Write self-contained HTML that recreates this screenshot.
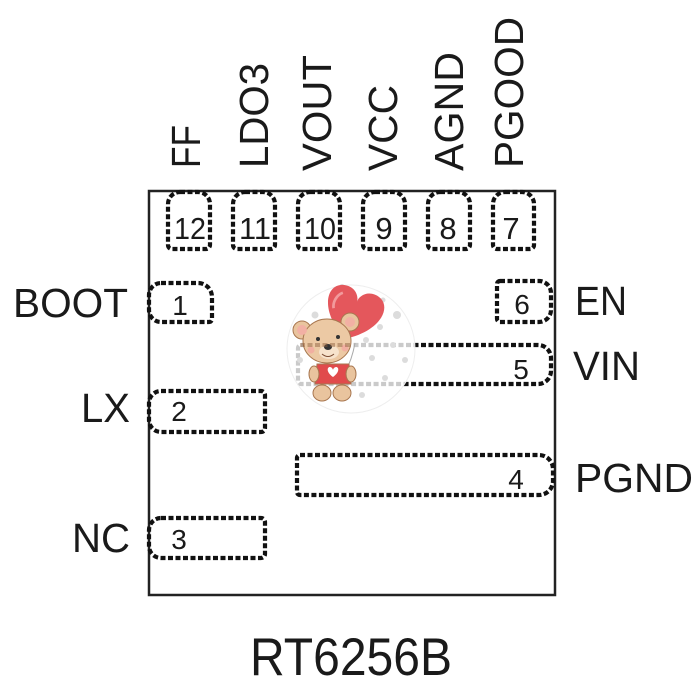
<!DOCTYPE html>
<html>
<head>
<meta charset="utf-8">
<style>
html,body{margin:0;padding:0;background:#fff;}
svg{display:block;}
text{font-family:"Liberation Sans",Arial,sans-serif;fill:#1a1a1a;}
</style>
</head>
<body>
<svg width="700" height="700" viewBox="0 0 700 700" xmlns="http://www.w3.org/2000/svg">
<rect x="0" y="0" width="700" height="700" fill="#fff"/>

<!-- vertical labels -->
<g font-size="41">
<text transform="translate(200,168) rotate(-90)" textLength="43" lengthAdjust="spacingAndGlyphs">FF</text>
<text transform="translate(268,168) rotate(-90)" textLength="105" lengthAdjust="spacingAndGlyphs">LDO3</text>
<text transform="translate(331,171) rotate(-90)" textLength="116" lengthAdjust="spacingAndGlyphs">VOUT</text>
<text transform="translate(397,171) rotate(-90)" textLength="86" lengthAdjust="spacingAndGlyphs">VCC</text>
<text transform="translate(463,171) rotate(-90)" textLength="119" lengthAdjust="spacingAndGlyphs">AGND</text>
<text transform="translate(523,168) rotate(-90)" textLength="151" lengthAdjust="spacingAndGlyphs">PGOOD</text>
</g>

<!-- side labels -->
<g font-size="41">
<text x="13" y="317" textLength="115" lengthAdjust="spacingAndGlyphs">BOOT</text>
<text x="81" y="422" textLength="49" lengthAdjust="spacingAndGlyphs">LX</text>
<text x="72" y="552" textLength="58" lengthAdjust="spacingAndGlyphs">NC</text>
<text x="575" y="315" textLength="52" lengthAdjust="spacingAndGlyphs">EN</text>
<text x="573" y="380" textLength="67" lengthAdjust="spacingAndGlyphs">VIN</text>
<text x="575" y="492" textLength="118" lengthAdjust="spacingAndGlyphs">PGND</text>
</g>

<text x="250" y="675" font-size="53" textLength="202" lengthAdjust="spacingAndGlyphs">RT6256B</text>

<!-- package body -->
<rect x="149" y="191" width="406" height="404" fill="none" stroke="#222" stroke-width="2.5"/>

<!-- pads -->
<g fill="none" stroke="#111" stroke-width="4.2" stroke-dasharray="5 2.5">
<path d="M180,192 H198 A12,12 0 0 1 210,204 V245 A4,4 0 0 1 206,249 H172 A4,4 0 0 1 168,245 V204 A12,12 0 0 1 180,192 Z"/>
<path d="M245,192 H263 A12,12 0 0 1 275,204 V245 A4,4 0 0 1 271,249 H237 A4,4 0 0 1 233,245 V204 A12,12 0 0 1 245,192 Z"/>
<path d="M310,192 H328 A12,12 0 0 1 340,204 V245 A4,4 0 0 1 336,249 H302 A4,4 0 0 1 298,245 V204 A12,12 0 0 1 310,192 Z"/>
<path d="M375,192 H393 A12,12 0 0 1 405,204 V245 A4,4 0 0 1 401,249 H367 A4,4 0 0 1 363,245 V204 A12,12 0 0 1 375,192 Z"/>
<path d="M440,192 H458 A12,12 0 0 1 470,204 V245 A4,4 0 0 1 466,249 H432 A4,4 0 0 1 428,245 V204 A12,12 0 0 1 440,192 Z"/>
<path d="M505,192 H522 A12,12 0 0 1 534,204 V245 A4,4 0 0 1 530,249 H497 A4,4 0 0 1 493,245 V204 A12,12 0 0 1 505,192 Z"/>
<path d="M161,283 H198 A14,14 0 0 1 212,297 V319 A3,3 0 0 1 209,322 H161 A12,12 0 0 1 149,310 V295 A12,12 0 0 1 161,283 Z"/>
<path d="M161,391 H261 A4,4 0 0 1 265,395 V428 A4,4 0 0 1 261,432 H161 A12,12 0 0 1 149,420 V403 A12,12 0 0 1 161,391 Z"/>
<path d="M161,518 H261 A4,4 0 0 1 265,522 V554 A4,4 0 0 1 261,558 H161 A12,12 0 0 1 149,546 V530 A12,12 0 0 1 161,518 Z"/>
<path d="M500,281 H539 A12,12 0 0 1 551,293 V310 A12,12 0 0 1 539,322 H500 A3,3 0 0 1 497,319 V284 A3,3 0 0 1 500,281 Z"/>
<path d="M301,345 H538 A13,13 0 0 1 551,358 V371 A13,13 0 0 1 538,384 H301 A3,3 0 0 1 298,381 V348 A3,3 0 0 1 301,345 Z"/>
<path d="M300,455 H539 A14,14 0 0 1 553,469 V481 A14,14 0 0 1 539,495 H300 A3,3 0 0 1 297,492 V458 A3,3 0 0 1 300,455 Z"/>
</g>

<!-- pad numbers -->
<g font-size="31" text-anchor="middle">
<text x="190" y="239" textLength="32" lengthAdjust="spacingAndGlyphs">12</text>
<text x="255" y="239" textLength="32" lengthAdjust="spacingAndGlyphs">11</text>
<text x="320" y="239" textLength="32" lengthAdjust="spacingAndGlyphs">10</text>
<text x="384" y="239">9</text>
<text x="448" y="239">8</text>
<text x="511" y="239">7</text>
</g>
<g font-size="28" text-anchor="middle">
<text x="180" y="315">1</text>
<text x="179" y="421">2</text>
<text x="179" y="549">3</text>
<text x="522" y="314">6</text>
<text x="521" y="379">5</text>
<text x="516" y="489">4</text>
</g>

<!-- sticker overlay -->
<circle cx="351" cy="349" r="64" fill="#fff" fill-opacity="0.78" stroke="#eee" stroke-width="1"/>
<g fill="#dcdcdc">
<circle cx="342" cy="287" r="3"/>
<circle cx="315" cy="315" r="3.5"/>
<circle cx="397" cy="315" r="4"/>
<circle cx="383" cy="300" r="2.5"/>
<circle cx="380" cy="327" r="3"/>
<circle cx="393" cy="345" r="3"/>
<circle cx="372" cy="358" r="3"/>
<circle cx="405" cy="360" r="3"/>
<circle cx="385" cy="378" r="3"/>
<circle cx="362" cy="395" r="3"/>
<circle cx="300" cy="360" r="3"/>
<circle cx="366" cy="340" r="3"/>
</g>
<g transform="translate(352,317) rotate(18) scale(1.35)">
<path d="M0,17 C-26,2 -26,-20 -11,-21 C-4,-21.5 0,-16 0,-12 C0,-16 4,-21.5 11,-21 C26,-20 26,2 0,17 Z" fill="#e4575c"/>
<path d="M-12,-15 C-16,-12 -17,-6 -15,-2" stroke="#f29a9c" stroke-width="2" fill="none"/>
</g>
<path d="M355,343 Q352,360 345,372" stroke="#aaa" stroke-width="1" fill="none"/>
<g stroke="#a8764f" stroke-width="1">
<ellipse cx="322" cy="393" rx="9" ry="8" fill="#e9c49e"/>
<ellipse cx="342" cy="393" rx="9" ry="8" fill="#e9c49e"/>
<path d="M317,364 H349 L351,384 H315 Z" fill="#e14a4c"/>
<ellipse cx="314" cy="374" rx="5" ry="8" fill="#e9c49e"/>
<ellipse cx="351" cy="374" rx="5" ry="8" fill="#e9c49e"/>
<circle cx="302" cy="330" r="9" fill="#e9c49e"/>
<circle cx="350" cy="322" r="9" fill="#e9c49e"/>
<ellipse cx="327" cy="341" rx="24" ry="22" fill="#ecc9a4"/>
</g>
<circle cx="302" cy="330" r="5" fill="#f2b0a4"/>
<circle cx="350" cy="322" r="5" fill="#f2b0a4"/>
<ellipse cx="329" cy="352" rx="10" ry="7" fill="#f7e3cc"/>
<ellipse cx="328" cy="347" rx="4" ry="3" fill="#333"/>
<circle cx="318" cy="339" r="2" fill="#333"/>
<circle cx="338" cy="337" r="2" fill="#333"/>
<circle cx="311" cy="350" r="3.5" fill="#f3a4a0" fill-opacity="0.7"/>
<circle cx="345" cy="348" r="3.5" fill="#f3a4a0" fill-opacity="0.7"/>
<path d="M322,354 Q328,359 334,354" stroke="#7a4a30" stroke-width="1" fill="none"/>
<path d="M333,377 C326,372 327,367 330,367 C331.5,367 333,369 333,370 C333,369 334.5,367 336,367 C339,367 340,372 333,377 Z" fill="#fff"/>
<line x1="300" y1="345" x2="350" y2="345" stroke="#8a5a3a" stroke-opacity="0.45" stroke-width="4" stroke-dasharray="5 2.5"/>
</svg>
</body>
</html>
